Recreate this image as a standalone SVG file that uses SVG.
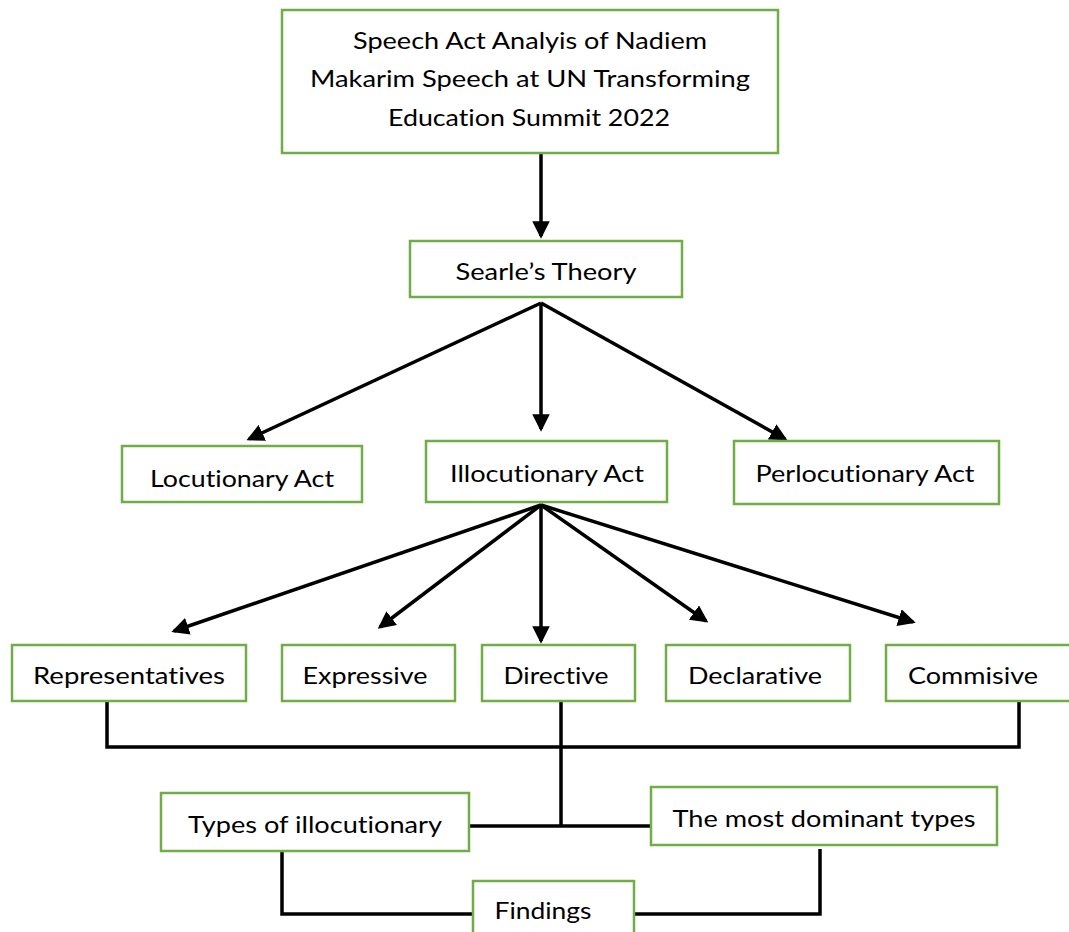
<svg xmlns="http://www.w3.org/2000/svg" width="1069" height="932" viewBox="0 0 1069 932">
<defs>
<style>
.box{fill:#fff;stroke:#70ad47;stroke-width:2.5}
.t{font-family:Lato,"Open Sans","Liberation Sans",sans-serif;font-size:24px;fill:#000;text-anchor:middle;font-variant-ligatures:none;font-feature-settings:"liga" 0,"dlig" 0}
.c{fill:none;stroke:#000;stroke-width:3.5}
</style>
<marker id="ah" markerWidth="5" markerHeight="5" refX="4.2" refY="2.5" orient="auto" markerUnits="strokeWidth">
<path d="M0,0 L5,2.5 L0,5 Z" fill="#000"/>
</marker>
</defs>
<rect width="1069" height="932" fill="#fff"/>
<g id="connectors">
<line class="c" x1="541" y1="153" x2="541" y2="236" marker-end="url(#ah)"/>
<line class="c" x1="541" y1="303" x2="249" y2="439" marker-end="url(#ah)"/>
<line class="c" x1="541" y1="303" x2="541" y2="429" marker-end="url(#ah)"/>
<line class="c" x1="541" y1="303" x2="785" y2="439" marker-end="url(#ah)"/>
<line class="c" x1="541" y1="505" x2="174" y2="631" marker-end="url(#ah)"/>
<line class="c" x1="541" y1="505" x2="380" y2="627" marker-end="url(#ah)"/>
<line class="c" x1="541" y1="505" x2="541" y2="641" marker-end="url(#ah)"/>
<line class="c" x1="541" y1="505" x2="706" y2="621" marker-end="url(#ah)"/>
<line class="c" x1="541" y1="505" x2="913" y2="622" marker-end="url(#ah)"/>
<polyline class="c" points="107,701 107,747 1019,747 1019,701"/>
<line class="c" x1="561" y1="701" x2="561" y2="826"/>
<line class="c" x1="469" y1="826" x2="651" y2="826"/>
<polyline class="c" points="282,851 282,914 473,914"/>
<polyline class="c" points="820,849 820,914 634,914"/>
</g>
<g id="title"><rect class="box" x="282" y="10" width="496" height="143"/>
<text class="t" x="530" y="49" textLength="354" lengthAdjust="spacingAndGlyphs">Speech Act Analyis of Nadiem</text>
<text class="t" x="530" y="87" textLength="440" lengthAdjust="spacingAndGlyphs">Makarim Speech at UN Transforming</text>
<text class="t" x="529" y="126" textLength="282" lengthAdjust="spacingAndGlyphs">Education Summit 2022</text></g>
<g id="searle"><rect class="box" x="410" y="241" width="272" height="56"/>
<text class="t" x="546" y="280" textLength="181" lengthAdjust="spacingAndGlyphs">Searle’s Theory</text></g>
<g id="locutionary"><rect class="box" x="122" y="446" width="240" height="56"/>
<text class="t" x="242" y="487" textLength="184" lengthAdjust="spacingAndGlyphs">Locutionary Act</text></g>
<g id="illocutionary"><rect class="box" x="426" y="441" width="241" height="61"/>
<text class="t" x="547" y="482" textLength="194" lengthAdjust="spacingAndGlyphs">Illocutionary Act</text></g>
<g id="perlocutionary"><rect class="box" x="734" y="441" width="265" height="63"/>
<text class="t" x="865" y="482" textLength="219" lengthAdjust="spacingAndGlyphs">Perlocutionary Act</text></g>
<g id="representatives"><rect class="box" x="12" y="645" width="234" height="56"/>
<text class="t" x="129" y="684" textLength="192" lengthAdjust="spacingAndGlyphs">Representatives</text></g>
<g id="expressive"><rect class="box" x="282" y="645" width="173" height="56"/>
<text class="t" x="365" y="684" textLength="125" lengthAdjust="spacingAndGlyphs">Expressive</text></g>
<g id="directive"><rect class="box" x="482" y="645" width="153" height="56"/>
<text class="t" x="556" y="684" textLength="105" lengthAdjust="spacingAndGlyphs">Directive</text></g>
<g id="declarative"><rect class="box" x="666" y="645" width="184" height="56"/>
<text class="t" x="755" y="684" textLength="134" lengthAdjust="spacingAndGlyphs">Declarative</text></g>
<g id="commisive"><rect class="box" x="886" y="645" width="190" height="56"/>
<text class="t" x="973" y="684" textLength="130" lengthAdjust="spacingAndGlyphs">Commisive</text></g>
<g id="types"><rect class="box" x="161" y="793" width="308" height="58"/>
<text class="t" x="315" y="833" textLength="254" lengthAdjust="spacingAndGlyphs">Types of illocutionary</text></g>
<g id="dominant"><rect class="box" x="651" y="787" width="346" height="58"/>
<text class="t" x="824" y="827" textLength="303" lengthAdjust="spacingAndGlyphs">The most dominant types</text></g>
<g id="findings"><rect class="box" x="473" y="881" width="161" height="60"/>
<text class="t" x="543" y="919" textLength="97" lengthAdjust="spacingAndGlyphs">Findings</text></g>
</svg>
